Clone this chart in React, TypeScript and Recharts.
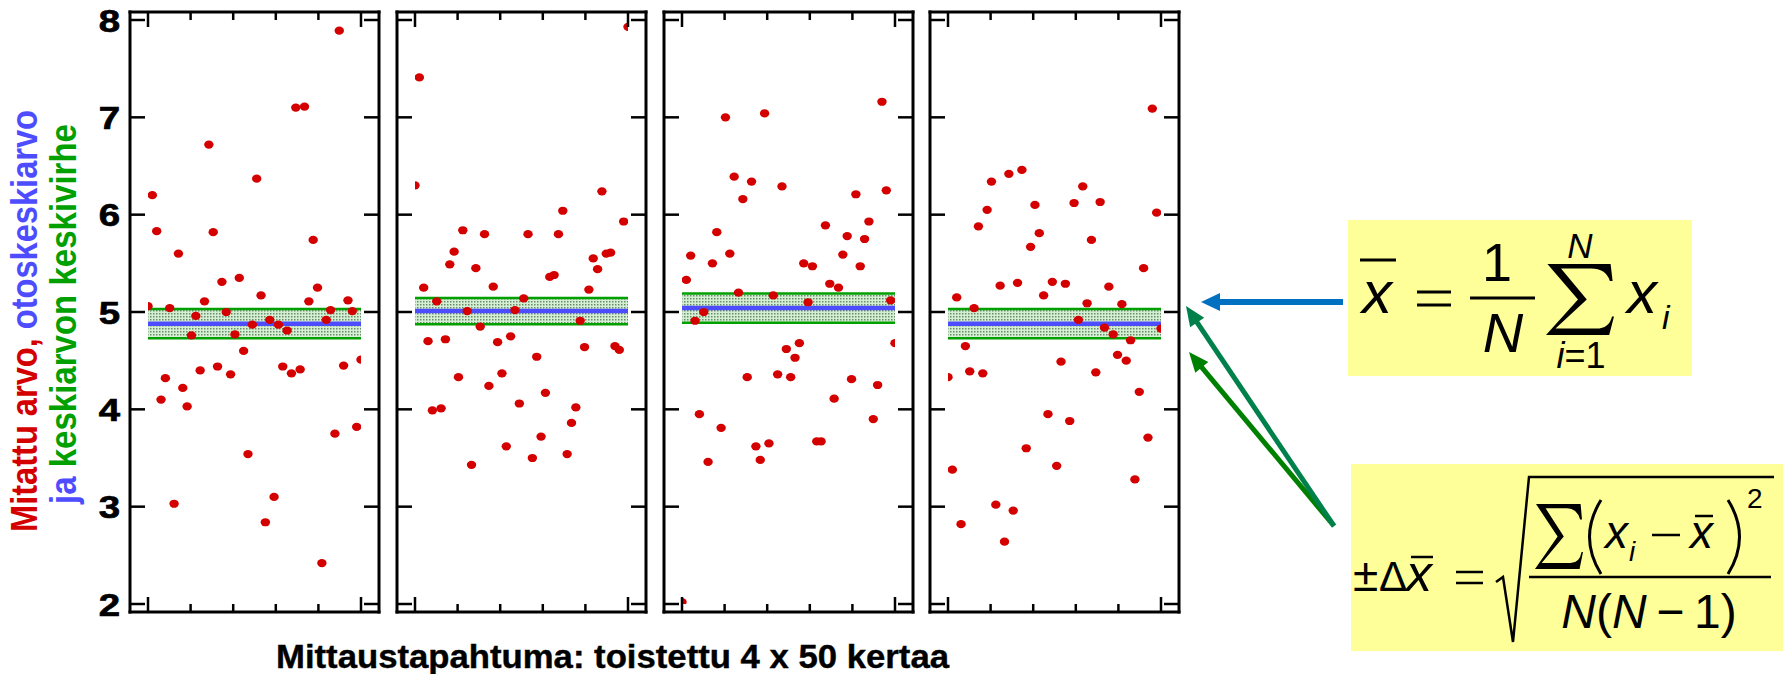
import React from 'react';
import { ScatterChart, Scatter, XAxis, YAxis, ReferenceArea, ReferenceLine } from 'recharts';

// ---- data ----
const panel1Values = [
  5.06, 6.2, 5.83, 4.1, 4.32, 5.04, 3.03, 5.6, 4.22, 4.03,
  4.76, 4.96, 4.4, 5.11, 6.72, 5.82, 4.44, 5.31, 5.0, 4.36,
  4.77, 5.35, 4.6, 3.54, 4.87, 6.37, 5.17, 2.84, 4.92, 3.1,
  4.87, 4.44, 4.81, 4.37, 7.1, 4.41, 7.11, 5.11, 5.74, 5.25,
  2.42, 4.92, 5.02, 3.75, 7.89, 4.45, 5.12, 5.01, 3.82, 4.51,
];
const panel2Values = [
  6.3, 7.41, 5.25, 4.7, 3.99, 5.11, 4.01, 4.72, 5.49, 5.62,
  4.33, 5.84, 5.01, 3.43, 5.45, 4.85, 5.8, 4.24, 5.26, 4.69,
  4.37, 3.62, 4.75, 5.02, 4.06, 5.14, 5.8, 3.5, 4.54, 3.72,
  4.17, 5.36, 5.38, 5.8, 6.04, 3.54, 3.86, 4.02, 4.91, 4.64,
  5.23, 5.55, 5.44, 6.24, 5.6, 5.61, 4.65, 4.61, 5.93, 7.93,
];
const panel3Values = [
  2.02, 5.33, 5.58, 4.91, 3.95, 5.0, 3.46, 5.5, 5.82, 3.81,
  7.0, 5.6, 6.39, 5.2, 6.16, 4.33, 6.34, 3.62, 3.48, 7.04,
  3.65, 5.17, 4.36, 6.29, 4.62, 4.33, 4.53, 4.68, 5.5, 5.1,
  5.47, 3.67, 3.67, 5.89, 5.29, 4.11, 5.25, 5.59, 5.78, 4.31,
  6.21, 5.47, 5.75, 5.93, 3.9, 4.25, 7.16, 6.25, 5.12, 4.68,
];
const panel4Values = [
  4.33, 3.38, 5.15, 2.82, 4.65, 4.39, 5.04, 5.88, 4.37, 6.05,
  6.34, 3.02, 5.27, 2.64, 6.42, 2.96, 5.3, 6.46, 3.6, 5.67,
  6.1, 5.81, 5.17, 3.95, 5.31, 3.42, 4.49, 5.29, 3.88, 6.12,
  4.92, 6.29, 5.09, 5.74, 4.38, 6.13, 4.84, 5.26, 4.77, 4.56,
  5.08, 4.5, 4.71, 3.28, 4.18, 5.45, 3.71, 7.09, 6.02, 4.83,
];
const panelMeans = [4.88, 5.01, 5.04, 4.88];
const panelErrors = [0.15, 0.135, 0.15, 0.15];
const yTicks = [2, 3, 4, 5, 6, 7, 8];
// measurement number 0..49; ticks every 10 measurements (first & last at the ends)
const xTicks = [0, 9.8, 19.6, 29.4, 39.2, 49];
const xDomain = [0, 49];
const yDomain = [2, 8];

const allPanels = [panel1Values, panel2Values, panel3Values, panel4Values];

// ---- styles ----
const FONT = "'Liberation Sans', Arial, Helvetica, sans-serif";
const RED = '#d40000';
const BLUE = '#4d4dff';
const GREEN = '#00a000';
const PANEL_LEFTS = [130, 397, 664, 930];
const PLOT_W = 249;
const PLOT_H = 600;
const MARGIN = { top: 10, right: 20, bottom: 30, left: 60 };
const AXIS_LINE = { stroke: '#000', strokeWidth: 3, strokeLinecap: 'square' as const };

const BottomTick = (p: any) => {
  const long = p.index === 0 || p.index === xTicks.length - 1;
  return <line x1={p.x} x2={p.x} y1={p.y} y2={p.y - (long ? 15 : 8)} stroke="#000" strokeWidth={2.5} />;
};
const TopTick = (p: any) => {
  const long = p.index === 0 || p.index === xTicks.length - 1;
  return <line x1={p.x} x2={p.x} y1={p.y} y2={p.y + (long ? 15 : 8)} stroke="#000" strokeWidth={2.5} />;
};
const LeftTick = (p: any) => (
  <line x1={p.x} x2={p.x + 15} y1={p.y} y2={p.y} stroke="#000" strokeWidth={2.5} />
);
const LeftTickLabeled = (p: any) => (
  <g>
    <line x1={p.x} x2={p.x + 15} y1={p.y} y2={p.y} stroke="#000" strokeWidth={2.5} />
    <text transform={`translate(${p.x - 10}, ${p.y + 11.5}) scale(1.2, 1)`} textAnchor="end"
      fontFamily={FONT} fontWeight="bold" fontSize={32} fill="#000" stroke="#000" strokeWidth={0.7}>
      {p.payload.value}
    </text>
  </g>
);
const RightTick = (p: any) => (
  <line x1={p.x} x2={p.x - 15} y1={p.y} y2={p.y} stroke="#000" strokeWidth={2.5} />
);

const Dot = (p: any) => <ellipse cx={p.cx} cy={p.cy} rx={4.7} ry={4.1} fill={RED} />;

function Panel({ idx }: { idx: number }) {
  const values = allPanels[idx];
  const data = values.map((v, i) => ({ x: i, y: v }));
  const mean = panelMeans[idx];
  const err = panelErrors[idx];
  const left = PANEL_LEFTS[idx];
  const cw = MARGIN.left + 1 + PLOT_W + 1 + MARGIN.right;
  const ch = MARGIN.top + 1 + PLOT_H + 1 + MARGIN.bottom;
  return (
    <div style={{ position: 'absolute', left: left - MARGIN.left - 1, top: 12 - MARGIN.top - 1 }}>
      <ScatterChart width={cw} height={ch} margin={MARGIN}>
        <XAxis xAxisId="b" dataKey="x" type="number" orientation="bottom" domain={xDomain} ticks={xTicks}
          interval={0} padding={{ left: 18, right: 18 }} height={1} tickSize={0} tickMargin={0}
          tickLine={false} axisLine={AXIS_LINE} tick={BottomTick} allowDataOverflow />
        <XAxis xAxisId="t" dataKey="x" type="number" orientation="top" domain={xDomain} ticks={xTicks}
          interval={0} padding={{ left: 18, right: 18 }} height={1} tickSize={0} tickMargin={0}
          tickLine={false} axisLine={AXIS_LINE} tick={TopTick} allowDataOverflow />
        <YAxis yAxisId="l" dataKey="y" type="number" orientation="left" domain={yDomain} ticks={yTicks}
          interval={0} padding={{ top: 8, bottom: 8 }} width={1} tickSize={0} tickMargin={0}
          tickLine={false} axisLine={AXIS_LINE} tick={idx === 0 ? LeftTickLabeled : LeftTick} allowDataOverflow />
        <YAxis yAxisId="r" dataKey="y" type="number" orientation="right" domain={yDomain} ticks={yTicks}
          interval={0} padding={{ top: 8, bottom: 8 }} width={1} tickSize={0} tickMargin={0}
          tickLine={false} axisLine={AXIS_LINE} tick={RightTick} allowDataOverflow />
        <ReferenceArea xAxisId="b" yAxisId="l" x1={0} x2={49} y1={mean - err} y2={mean + err}
          fill="url(#bandDots)" fillOpacity={1} stroke="none" />
        <ReferenceLine xAxisId="b" yAxisId="l" segment={[{ x: 0, y: mean + err }, { x: 49, y: mean + err }]}
          stroke={GREEN} strokeWidth={2.5} />
        <ReferenceLine xAxisId="b" yAxisId="l" segment={[{ x: 0, y: mean - err }, { x: 49, y: mean - err }]}
          stroke={GREEN} strokeWidth={2.5} />
        <ReferenceLine xAxisId="b" yAxisId="l" segment={[{ x: 0, y: mean }, { x: 49, y: mean }]}
          stroke={BLUE} strokeWidth={4.5} />
        <Scatter xAxisId="b" yAxisId="l" data={data} shape={Dot} isAnimationActive={false} />
      </ScatterChart>
    </div>
  );
}

function arrowPath(sx: number, sy: number, tx: number, ty: number, headLen: number, headHalf: number) {
  const dx = tx - sx;
  const dy = ty - sy;
  const len = Math.hypot(dx, dy);
  const ux = dx / len;
  const uy = dy / len;
  const bx = tx - ux * headLen;
  const by = ty - uy * headLen;
  const nx = -uy;
  const ny = ux;
  return {
    shaft: { x1: sx, y1: sy, x2: bx + ux * 2, y2: by + uy * 2 },
    head: `${tx},${ty} ${bx + nx * headHalf},${by + ny * headHalf} ${bx - nx * headHalf},${by - ny * headHalf}`,
  };
}

// summation sign outline, drawn inside the box (x, y, w, h)
function sigmaPath(x: number, y: number, w: number, h: number) {
  const P = (u: number, v: number) => `${(x + u * w).toFixed(1)},${(y + v * h).toFixed(1)}`;
  return `M${P(0.02, 0)} L${P(0.95, 0)} L${P(0.98, 0.24)} L${P(0.94, 0.24)} Q${P(0.88, 0.065)} ${P(0.66, 0.065)} ` +
    `L${P(0.22, 0.065)} L${P(0.6, 0.5)} L${P(0.14, 0.91)} L${P(0.74, 0.91)} Q${P(0.93, 0.91)} ${P(0.97, 0.74)} ` +
    `L${P(1, 0.74)} L${P(0.93, 1)} L${P(0, 1)} L${P(0.47, 0.5)} Z`;
}

function Overlay() {
  const blue = arrowPath(1343, 302, 1201, 302, 19, 9);
  const g1 = arrowPath(1334, 526, 1186, 306, 20, 8.5);
  const g2 = arrowPath(1334, 526, 1189, 352, 20, 8.5);
  return (
    <svg width={1783} height={674} style={{ position: 'absolute', left: 0, top: 0 }}>
      <defs>
        <pattern id="bandDots" width={3} height={3} patternUnits="userSpaceOnUse">
          <rect x={0} y={0} width={3} height={3} fill="#d4efd4" />
          <rect x={0} y={0} width={1.5} height={1.5} fill="#6a8c6a" />
        </pattern>
      </defs>

      {/* y axis title */}
      <text x={37} y={532} transform="rotate(-90 37 532)" fontFamily={FONT} fontWeight="bold" fontSize={36}
        textLength={422} lengthAdjust="spacingAndGlyphs">
        <tspan fill={RED}>Mitattu arvo, </tspan>
        <tspan fill={BLUE}>otoskeskiarvo</tspan>
      </text>
      <text x={76} y={504} transform="rotate(-90 76 504)" fontFamily={FONT} fontWeight="bold" fontSize={36}
        textLength={380} lengthAdjust="spacingAndGlyphs">
        <tspan fill={BLUE}>ja </tspan>
        <tspan fill={GREEN}>keskiarvon keskivirhe</tspan>
      </text>

      {/* x axis title */}
      <text x={276} y={668} fontFamily={FONT} fontWeight="bold" fontSize={33} fill="#000" stroke="#000"
        strokeWidth={0.4} textLength={673} lengthAdjust="spacingAndGlyphs">
        Mittaustapahtuma: toistettu 4 x 50 kertaa
      </text>

      {/* arrows */}
      <line {...blue.shaft} stroke="#0070c0" strokeWidth={6} />
      <polygon points={blue.head} fill="#0070c0" />
      <line {...g2.shaft} stroke="#008000" strokeWidth={5} />
      <polygon points={g2.head} fill="#008000" />
      <line {...g1.shaft} stroke="#00804a" strokeWidth={5} />
      <polygon points={g1.head} fill="#00804a" />

      {/* formula 1: mean */}
      <rect x={1348} y={220} width={344} height={156} fill="#ffff99" />
      <g fontFamily={FONT} fill="#000">
        <line x1={1360} x2={1396} y1={260} y2={260} stroke="#000" strokeWidth={3} />
        <text x={1362} y={313} fontSize={60} fontStyle="italic">x</text>
        <line x1={1417} x2={1451} y1={292} y2={292} stroke="#000" strokeWidth={3} />
        <line x1={1417} x2={1451} y1={305} y2={305} stroke="#000" strokeWidth={3} />
        <text x={1497} y={281} fontSize={54} textAnchor="middle">1</text>
        <line x1={1470} x2={1535} y1={298} y2={298} stroke="#000" strokeWidth={3} />
        <text x={1503} y={352} fontSize={56} fontStyle="italic" textAnchor="middle">N</text>
        <path d={sigmaPath(1546, 264, 68, 71)} fill="#000" />
        <text x={1580} y={258} fontSize={35} fontStyle="italic" textAnchor="middle">N</text>
        <text x={1581} y={368} fontSize={36} textAnchor="middle">
          <tspan fontStyle="italic">i</tspan>=1
        </text>
        <text x={1627} y={313} fontSize={60} fontStyle="italic">x</text>
        <text x={1662} y={329} fontSize={34} fontStyle="italic">i</text>
      </g>

      {/* formula 2: standard error of the mean */}
      <rect x={1351} y={464} width={432} height={187} fill="#ffff99" />
      <g fontFamily={FONT} fill="#000">
        <text x={1353} y={591} fontSize={46}>±</text>
        <text x={1379} y={591} fontSize={42}>Δ</text>
        <text x={1406} y={591} fontSize={52} fontStyle="italic">x</text>
        <line x1={1411} x2={1433} y1={557} y2={557} stroke="#000" strokeWidth={2.5} />
        <line x1={1456} x2={1483} y1={572} y2={572} stroke="#000" strokeWidth={2.5} />
        <line x1={1456} x2={1483} y1={583} y2={583} stroke="#000" strokeWidth={2.5} />
        <polyline points="1496,582 1503,577 1513,642 1529,477 1774,477" fill="none" stroke="#000"
          strokeWidth={2.5} strokeLinejoin="miter" />
        <path d={sigmaPath(1535, 504, 48, 65)} fill="#000" />
        <path d="M1601,500 Q1578,537 1601,574" fill="none" stroke="#000" strokeWidth={3} />
        <text x={1605} y={548} fontSize={46} fontStyle="italic">x</text>
        <text x={1629} y={561} fontSize={28} fontStyle="italic">i</text>
        <line x1={1652} x2={1680} y1={535} y2={535} stroke="#000" strokeWidth={2.5} />
        <text x={1690} y={548} fontSize={46} fontStyle="italic">x</text>
        <line x1={1695} x2={1713} y1={516} y2={516} stroke="#000" strokeWidth={2.5} />
        <path d="M1728,500 Q1751,537 1728,574" fill="none" stroke="#000" strokeWidth={3} />
        <text x={1747} y={508} fontSize={28}>2</text>
        <line x1={1529} x2={1771} y1={577} y2={577} stroke="#000" strokeWidth={2.5} />
        <text x={1649} y={628} fontSize={48} textAnchor="middle">
          <tspan fontStyle="italic">N</tspan>(<tspan fontStyle="italic">N</tspan>{'\u2009\u2212\u2009'}1)
        </text>
      </g>
    </svg>
  );
}

export default function App() {
  return (
    <div style={{ position: 'absolute', left: 0, top: 0, width: 1783, height: 674, background: '#fff', overflow: 'hidden' }}>
      <Overlay />
      {[0, 1, 2, 3].map((i) => (
        <Panel key={i} idx={i} />
      ))}
    </div>
  );
}
